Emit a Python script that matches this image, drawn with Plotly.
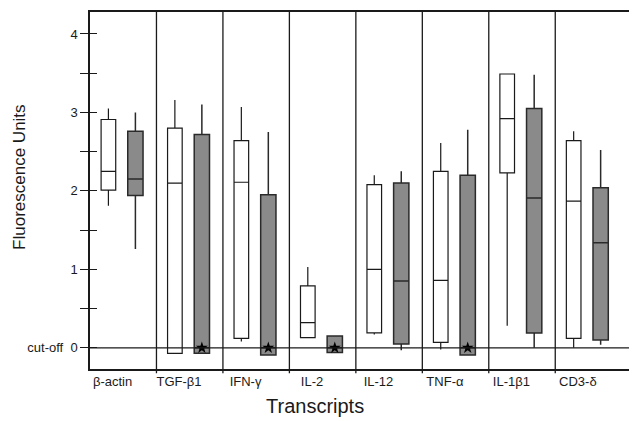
import plotly.graph_objects as go

categories = ["β-actin", "TGF-β1", "IFN-γ", "IL-2", "IL-12", "TNF-α", "IL-1β1", "CD3-δ"]

white_min = [1.81, -0.07, 0.08, 0.13, 0.17, -0.02, 0.28, 0.00]
white_q1 = [2.01, -0.07, 0.12, 0.13, 0.19, 0.07, 2.23, 0.12]
white_med = [2.25, 2.10, 2.11, 0.32, 1.00, 0.86, 2.92, 1.87]
white_q3 = [2.91, 2.80, 2.64, 0.79, 2.08, 2.25, 3.49, 2.64]
white_max = [3.05, 3.16, 3.07, 1.03, 2.20, 2.61, 3.49, 2.76]

gray_min = [1.26, -0.07, -0.09, -0.06, -0.03, -0.09, 0.00, 0.04]
gray_q1 = [1.94, -0.07, -0.09, -0.06, 0.05, -0.09, 0.19, 0.10]
gray_med = [2.15, 0.0, 0.0, 0.0, 0.85, 0.0, 1.91, 1.34]
gray_q3 = [2.76, 2.72, 1.95, 0.15, 2.10, 2.20, 3.05, 2.04]
gray_max = [3.00, 3.10, 2.75, 0.15, 2.25, 2.78, 3.48, 2.52]

star_values = [None, 0.0, 0.0, 0.0, None, 0.0, None, None]

y_tickvals = [0, 0.5, 1, 1.5, 2, 2.5, 3, 3.5, 4]
y_ticktext = ["cut-off\u00a0\u00a00", "", "1", "", "2", "", "3", "", "4"]

FONT = "Arial, Liberation Sans, Helvetica, sans-serif"
INK = "#1a1a1a"
idx = list(range(len(categories)))
W_OFF, G_OFF, LBL_OFF = -0.223, 0.183, -0.16

fig = go.Figure()
fig.add_trace(go.Box(
    x=[i + W_OFF for i in idx], q1=white_q1, median=white_med, q3=white_q3,
    lowerfence=white_min, upperfence=white_max,
    fillcolor="white", line=dict(color=INK, width=1.2), whiskerwidth=0,
    width=0.22, boxpoints=False, showlegend=False, hoverinfo="skip"))
fig.add_trace(go.Box(
    x=[i + G_OFF for i in idx], q1=gray_q1, median=gray_med, q3=gray_q3,
    lowerfence=gray_min, upperfence=gray_max,
    fillcolor="#8a8a8a", line=dict(color="#2a2a2a", width=1.5), whiskerwidth=0,
    width=0.23, boxpoints=False, showlegend=False, hoverinfo="skip"))
fig.add_trace(go.Scatter(
    x=[i + G_OFF for i, v in zip(idx, star_values) if v is not None],
    y=[v for v in star_values if v is not None],
    mode="markers", marker=dict(symbol="star", size=9, color="black"),
    showlegend=False, hoverinfo="skip"))
# invisible trace on overlay axis for inside ticks
fig.add_trace(go.Scatter(x=[0], y=[0], yaxis="y2", mode="markers",
                         marker=dict(opacity=0), showlegend=False, hoverinfo="skip"))

YR = [-0.27, 4.28]
XR = [-0.5, 7.73]

# page body has an 8px margin: shrink the figure so it ends at the window edge
fig.update_layout(
    width=629, height=413,
    margin=dict(l=82, r=0, t=4, b=52),
    paper_bgcolor="white", plot_bgcolor="white",
    font=dict(family=FONT, size=12, color=INK),
    xaxis=dict(range=XR, showgrid=False, zeroline=False,
               showline=True, linecolor=INK, linewidth=1.5, mirror=True,
               tickmode="array", tickvals=[i + LBL_OFF for i in idx], ticktext=categories,
               ticks="", tickfont=dict(size=13, family=FONT, color=INK)),
    yaxis=dict(range=YR, showgrid=False, zeroline=False,
               showline=True, linecolor=INK, linewidth=1.5,
               tickmode="array", tickvals=y_tickvals, ticktext=y_ticktext,
               ticks="outside", ticklen=8, tickwidth=1.3, tickcolor=INK,
               tickfont=dict(size=13, family=FONT, color=INK)),
    yaxis2=dict(range=YR, overlaying="y", side="left", showgrid=False, zeroline=False,
                showline=False, tickmode="array", tickvals=y_tickvals,
                ticks="inside", ticklen=7, tickwidth=1.3, tickcolor=INK,
                showticklabels=False),
)

# category separators
for i in idx[:-1]:
    fig.add_shape(type="line", xref="x", yref="paper", x0=i + 0.5, x1=i + 0.5,
                  y0=-0.012, y1=1, line=dict(color=INK, width=1.3))
# cut-off line
fig.add_shape(type="line", xref="paper", yref="y", x0=0, x1=1, y0=0, y1=0,
              line=dict(color=INK, width=1.2))

fig.add_annotation(text="Transcripts", xref="paper", yref="paper", x=0.411, y=-0.104,
                   showarrow=False, xanchor="center", yanchor="middle",
                   font=dict(size=20, family=FONT, color=INK))
fig.add_annotation(text="Fluorescence Units", xref="paper", yref="paper", x=-0.128, y=0.538,
                   showarrow=False, xanchor="center", yanchor="middle", textangle=-90,
                   font=dict(size=17, family=FONT, color=INK))

fig.write_html("out.html")
